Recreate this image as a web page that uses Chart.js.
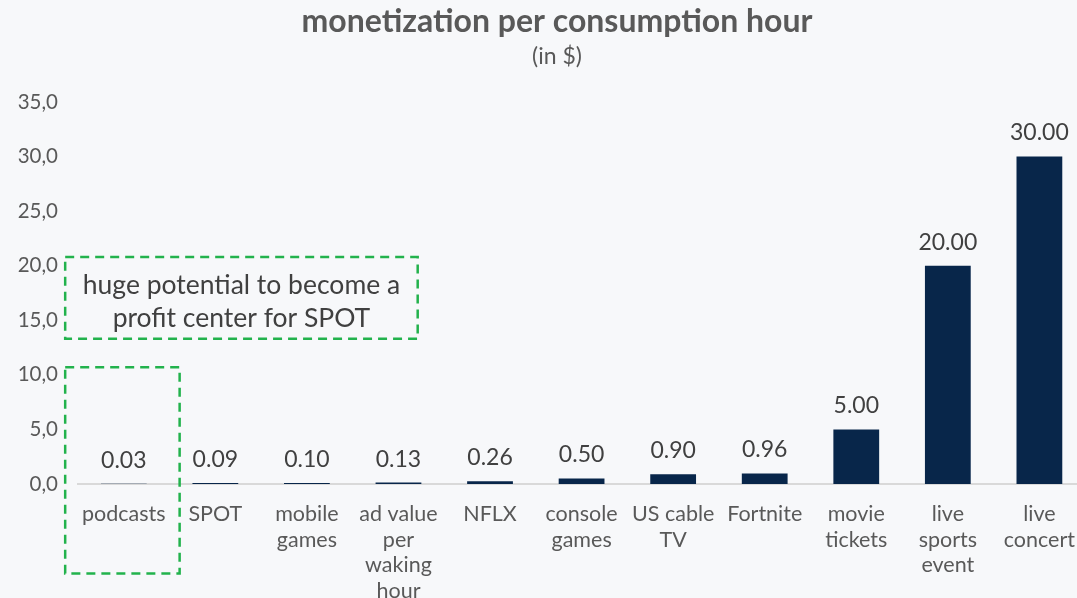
<!DOCTYPE html>
<html><head><meta charset="utf-8">
<script src="https://cdn.jsdelivr.net/npm/chart.js@4/dist/chart.umd.min.js"></script>
<style>
html,body{margin:0;padding:0;overflow:hidden;background:#f7f8fa;width:1077px;height:598px}
#wrap{width:1092px;height:598px}
canvas{display:block}
</style></head>
<body><div id="wrap"><canvas id="c" width="1092" height="598"></canvas></div>
<script>
const titleText = "monetization per consumption hour";
const subtitleText = "(in $)";
const categories = [["podcasts"],["SPOT"],["mobile","games"],["ad value","per","waking","hour"],["NFLX"],["console","games"],["US cable","TV"],["Fortnite"],["movie","tickets"],["live","sports","event"],["live","concert"]];
const values = [0.03,0.09,0.10,0.13,0.26,0.50,0.90,0.96,5.00,20.00,30.00];
const yMin = 0, yMax = 35, yStep = 5;
const calloutText = ["huge potential to become a","profit center for SPOT"];
// boxes in data units (x = category index, y = value)
const calloutBoxes = [{x0:-0.64,x1:3.21,y0:20.8,y1:13.3},{x0:-0.64,x1:0.61,y0:10.7,y1:-8.2}];

const FONT = "Lato, 'Open Sans', sans-serif";

const extras = {
  id:'extras',
  afterDatasetsDraw(chart){
    const ctx = chart.ctx;
    const meta = chart.getDatasetMeta(0);
    ctx.save();
    ctx.fillStyle = '#404040';
    ctx.font = '23px ' + FONT;
    ctx.textAlign = 'center';
    ctx.textBaseline = 'bottom';
    meta.data.forEach((bar,i)=>{
      ctx.fillText(values[i].toFixed(2), bar.x, bar.y - 12);
    });
    // callout boxes
    const xs = chart.scales.x, ys = chart.scales.y;
    ctx.strokeStyle = '#22b24c';
    ctx.lineWidth = 2.5;
    ctx.setLineDash([9,6]);
    calloutBoxes.forEach(b=>{
      const x0 = xs.getPixelForValue(b.x0), x1 = xs.getPixelForValue(b.x1);
      const y0 = ys.getPixelForValue(b.y0), y1 = ys.getPixelForValue(b.y1);
      ctx.strokeRect(x0, y0, x1-x0, y1-y0);
    });
    ctx.setLineDash([]);
    const b = calloutBoxes[0];
    const cx = (xs.getPixelForValue(b.x0)+xs.getPixelForValue(b.x1))/2;
    const cy = (ys.getPixelForValue(b.y0)+ys.getPixelForValue(b.y1))/2;
    ctx.fillStyle = '#404040';
    ctx.font = '26.5px ' + FONT;
    ctx.textBaseline = 'middle';
    ctx.fillText(calloutText[0], cx, cy - 12);
    ctx.fillText(calloutText[1], cx, cy + 21);
    // title
    ctx.fillStyle = '#595959';
    ctx.font = 'bold 32px ' + FONT;
    ctx.fillText(titleText, 557, 22);
    ctx.font = '23px ' + FONT;
    ctx.fillText(subtitleText, 557, 57);
    ctx.restore();
  }
};

new Chart(document.getElementById('c'), {
  type:'bar',
  data:{labels:categories, datasets:[{data:values, backgroundColor:'#08264a', borderWidth:0, barPercentage:0.5, categoryPercentage:1}]},
  options:{
    responsive:false, animation:false, devicePixelRatio:1,
    layout:{padding:{top:102,left:0,right:0,bottom:0}},
    plugins:{legend:{display:false}, tooltip:{enabled:false}},
    scales:{
      x:{
        grid:{display:false, drawTicks:false},
        border:{display:true, color:'#d9d9d9', width:2},
        ticks:{color:'#595959', font:{family:FONT, size:21.5, lineHeight:1.2}, padding:17, maxRotation:0, autoSkip:false},
        afterFit(s){ s.height = 114; }
      },
      y:{
        min:yMin, max:yMax,
        grid:{display:false, drawTicks:false},
        border:{display:false},
        ticks:{stepSize:yStep, color:'#595959', font:{family:FONT, size:20.5}, padding:20,
          callback:v=>v.toFixed(1).replace('.',',')},
        afterFit(s){ s.width = 78; }
      }
    }
  },
  plugins:[extras]
});
</script>
</body></html>
